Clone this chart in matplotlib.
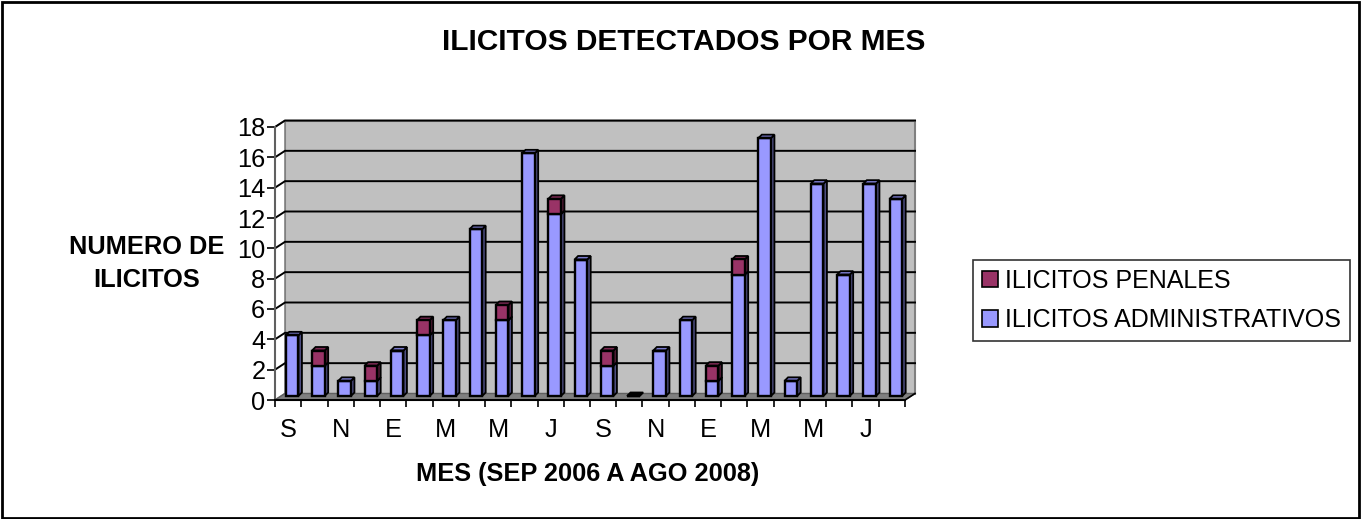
import numpy as np
import matplotlib
matplotlib.use("Agg")
import matplotlib.pyplot as plt
from matplotlib.patches import Polygon, Rectangle
from matplotlib.lines import Line2D

plt.rcParams['font.family'] = ['Liberation Sans', 'DejaVu Sans']

# ---- data ----
months = ["S", "O", "N", "D", "E", "F", "M", "A", "M", "J", "J", "A",
          "S", "O", "N", "D", "E", "F", "M", "A", "M", "J", "J", "A"]
administrativos = [4, 2, 1, 1, 3, 4, 5, 11, 5, 16, 12, 9,
                   2, 0, 3, 5, 1, 8, 17, 1, 14, 8, 14, 13]
penales = [0, 1, 0, 1, 0, 1, 0, 0, 1, 0, 1, 0,
           1, 0, 0, 0, 1, 1, 0, 0, 0, 0, 0, 0]
yticks = list(range(0, 19, 2))

title = "ILICITOS DETECTADOS POR MES"
ylabel = "NUMERO DE\nILICITOS"
xlabel = "MES (SEP 2006 A AGO 2008)"
series_names = ["ILICITOS PENALES", "ILICITOS ADMINISTRATIVOS"]

c_admin, c_admin_side, c_admin_top = "#9999FF", "#4D4D80", "#7A7ACC"
c_pen, c_pen_side, c_pen_top = "#993366", "#4D1A33", "#7A2952"

FS = 18.3

W, H = 1361, 519
fig = plt.figure(figsize=(W / 100, H / 100), dpi=100)
fig.patch.set_facecolor("white")
# outer border
fig.add_artist(Rectangle((1.5 / W, 1.5 / H), 1 - 3.5 / W, 1 - 3.5 / H,
                         transform=fig.transFigure, fill=False,
                         edgecolor="black", linewidth=2))

ax_l, ax_r, ax_t, ax_b = 275, 905, 127, 400
ax = fig.add_axes([ax_l / W, (H - ax_b) / H, (ax_r - ax_l) / W, (ax_b - ax_t) / H])
ax.set_facecolor("none")
n = len(months)
ax.set_xlim(-0.5, n - 0.5)
ax.set_ylim(0, 18)

pxx = (ax_r - ax_l) / n          # pixels per x unit
pxy = (ax_b - ax_t) / 18.0       # pixels per y unit

# wall depth offset
wx, wy = 10 / pxx, 6.5 / pxy
x0, x1 = -0.5, n - 0.5
# back wall
ax.add_patch(Polygon([(x0 + wx, wy), (x1 + wx, wy), (x1 + wx, 18 + wy), (x0 + wx, 18 + wy)],
                     closed=True, facecolor="#C0C0C0", edgecolor="#808080",
                     linewidth=1.5, zorder=1, clip_on=False))
# left wall outline
ax.add_patch(Polygon([(x0, 0), (x0 + wx, wy), (x0 + wx, 18 + wy), (x0, 18)],
                     closed=True, facecolor="white", edgecolor="#808080",
                     linewidth=1.2, zorder=1, clip_on=False))
# gridlines
for v in yticks[1:]:
    ax.add_line(Line2D([x0, x0 + wx, x1 + wx], [v, v + wy, v + wy], color="black",
                       linewidth=1.4, zorder=2, clip_on=False))
# floor
ax.add_patch(Polygon([(x0, 0), (x1, 0), (x1 + wx, wy), (x0 + wx, wy)],
                     closed=True, facecolor="#808080", edgecolor="#606060",
                     linewidth=1.0, zorder=2, clip_on=False))

# bars
x = np.arange(n)
bw = 0.48
sx, sy = 4 / pxx, 4 / pxy      # placement of front face inside depth
dx, dy = 3.5 / pxx, 3.5 / pxy  # bar depth
adm = np.array(administrativos, dtype=float)
pen = np.array(penales, dtype=float)


def faces(xc, bottom, h, side, top, z):
    xl = xc + sx - bw / 2
    xr = xc + sx + bw / 2
    yb = bottom + sy
    yt = bottom + h + sy
    if h > 0:
        ax.add_patch(Polygon([(xr, yb), (xr + dx, yb + dy), (xr + dx, yt + dy), (xr, yt)],
                             closed=True, facecolor=side, edgecolor="black",
                             linewidth=1.3, zorder=z, clip_on=False))
    ax.add_patch(Polygon([(xl, yt), (xr, yt), (xr + dx, yt + dy), (xl + dx, yt + dy)],
                         closed=True, facecolor=top if h > 0 else "black",
                         edgecolor="black", linewidth=1.3, zorder=z, clip_on=False))


for i in range(n):
    faces(x[i], 0, adm[i], c_admin_side, c_admin_top, 3)
    if pen[i] > 0:
        faces(x[i], adm[i], pen[i], c_pen_side, c_pen_top, 3)

ax.bar(x + sx, adm, width=bw, bottom=sy, color=c_admin, edgecolor="black",
       linewidth=1.7, zorder=4, clip_on=False)
ax.bar(x + sx, pen, width=bw, bottom=sy + adm, color=c_pen, edgecolor="black",
       linewidth=1.7, zorder=4, clip_on=False)

# axes
for s in ["top", "right"]:
    ax.spines[s].set_visible(False)
ax.spines["left"].set_color("#606060")
ax.spines["left"].set_linewidth(1.5)
ax.spines["bottom"].set_color("black")
ax.spines["bottom"].set_linewidth(1.5)
ax.spines["left"].set_zorder(5)
ax.spines["bottom"].set_zorder(5)
# floor right edge
ax.add_line(Line2D([x1, x1 + wx], [0, wy], color="black", linewidth=1.2, zorder=5, clip_on=False))

ax.set_yticks(yticks)
ax.set_yticklabels([str(v) for v in yticks], fontsize=FS)
ax.tick_params(axis="y", length=6, width=1.2, pad=1, color="black")
ax.set_xticks(x[::2])
ax.set_xticklabels(months[::2], fontsize=FS)
ax.set_xticks(np.arange(n + 1) - 0.5, minor=True)
ax.tick_params(axis="x", which="major", length=0, pad=13)
ax.tick_params(axis="x", which="minor", length=5, width=1.2, color="black")

fig.text(684 / W, 1 - 42.5 / H, title, ha="center", va="center",
         fontsize=21.5, fontweight="bold")
fig.text(147 / W, 1 - 263.5 / H, ylabel, ha="center", va="center",
         fontsize=FS, fontweight="bold", linespacing=1.5)
fig.text(588 / W, 1 - 474 / H, xlabel, ha="center", va="center",
         fontsize=FS, fontweight="bold")

# legend
handles = [Rectangle((0, 0), 1, 1, facecolor=c_pen, edgecolor="black", linewidth=1.2),
           Rectangle((0, 0), 1, 1, facecolor=c_admin, edgecolor="black", linewidth=1.2)]
leg = fig.legend(handles, series_names, loc="center left",
                 bbox_to_anchor=(973 / W, 1 - 300.5 / H), fontsize=18,
                 frameon=True, fancybox=False, handlelength=0.65, handleheight=0.65,
                 handletextpad=0.3, labelspacing=0.62, borderpad=0.35,
                 borderaxespad=0)
leg.get_frame().set_edgecolor("black")
leg.get_frame().set_linewidth(1.2)

fig.savefig("out.png", dpi=100)
